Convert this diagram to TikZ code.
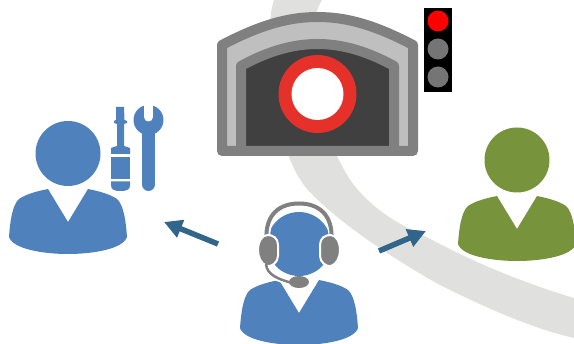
\documentclass[tikz,border=0pt]{standalone}
\usetikzlibrary{arrows.meta}
\definecolor{band}{HTML}{E0E0DE}
\definecolor{pblue}{HTML}{4F81BD}
\definecolor{pgreen}{HTML}{77933C}
\definecolor{tgray}{HTML}{808080}
\definecolor{tlight}{HTML}{BFBFBF}
\definecolor{tdark}{HTML}{404040}
\definecolor{ringred}{HTML}{E5312A}
\definecolor{lampgray}{HTML}{757575}
\definecolor{arrowc}{HTML}{31658A}
\tikzset{
  personbody/.pic={
    \fill (-20,36) -- (0,69) -- (20,36)
      .. controls (30,38) and (42,41) .. (49,46)
      .. controls (56,52) and (58,70) .. (59,84)
      .. controls (55,96) and (25,101) .. (0,101)
      .. controls (-25,101) and (-55,96) .. (-59,84)
      .. controls (-58,70) and (-56,52) .. (-49,46)
      .. controls (-42,41) and (-30,38) .. (-20,36) -- cycle;
  },
  flow/.style={draw=arrowc,line width=5.5pt,-{Triangle[length=18pt,width=18pt]},shorten >=0pt},
  lamp/.style={radius=10.5}
}
\begin{document}
\begin{tikzpicture}[x=1pt,y=-1pt]
\useasboundingbox (0,0) rectangle (574,344);
\clip (0,0) rectangle (574,344);
% road band
\fill[band] (274,0) .. controls (262,35) and (272,150) .. (308,190)
  .. controls (338,223) and (400,263) .. (440,285)
  .. controls (480,305) and (530,328) .. (574,338)
  -- (574,298) .. controls (530,285) and (480,265) .. (440,244)
  .. controls (410,228) and (386,221) .. (358,190)
  .. controls (330,159) and (292,50) .. (322,0) -- cycle;
% tunnel
\draw[tgray,fill=tlight,line width=10pt,line join=round]
  (222,151) -- (222,45) .. controls (262,24) and (290,17) .. (317.5,17)
  .. controls (345,17) and (373,24) .. (413,45) -- (413,151) -- cycle;
\draw[tgray,fill=tdark,line width=10pt,line join=round]
  (241,151) -- (241,66) .. controls (270,50) and (295,44) .. (317.5,44)
  .. controls (340,44) and (365,50) .. (394,66) -- (394,151) -- cycle;
\fill[ringred] (317.5,94) circle[radius=39];
\fill[white] (317.5,94) circle[radius=26];
% traffic light
\fill[black] (424,8) rectangle (452,92);
\fill[red] (438,21) circle[lamp];
\fill[lampgray] (438,49) circle[lamp];
\fill[lampgray] (438,77) circle[lamp];
% left person
\fill[pblue] (68,153.5) circle[radius=32.5];
\pic[pblue] at (68,153) {personbody};
% screwdriver
\fill[pblue] (116,107) -- (124,107) -- (124.5,120) -- (127,121) -- (127,123) -- (124,124) -- (124,146) -- (130,148) -- (130,154) -- (111,154) -- (111,148) -- (117,146) -- (117,124) -- (114,123) -- (114,121) -- (116,120) -- cycle;
\fill[pblue] (111,157) -- (130,157) -- (130,179.5) -- (111,179.5) -- cycle;
\fill[pblue] (111,181.5) -- (130,181.5) -- (130,185) .. controls (130,189) and (127,191) .. (124,191) -- (117,191) .. controls (114,191) and (111,189) .. (111,185) -- cycle;
% wrench
\fill[pblue] (148.5,120) circle[radius=15];
\fill[pblue] (142,125) rectangle (155,185);
\fill[pblue] (148.5,184.5) circle[radius=6.5];
\fill[white] (144,100) rectangle (153,117);
\fill[white] (148.5,117) circle[radius=4.5];
% right person
\fill[pgreen] (517,160) circle[radius=32.5];
\pic[pgreen] at (517,160) {personbody};
% operator
\fill[pblue] (299,244) circle[radius=32];
\pic[pblue] at (299,244) {personbody};
% headset
\draw[white,line width=6.5pt] (267,240) .. controls (266,214) and (280,203.5) .. (299,203.5) .. controls (318,203.5) and (332,214) .. (332,240);
\draw[tgray,line width=4pt] (266.5,240) .. controls (265,214) and (280,203.5) .. (299,203.5) .. controls (318,203.5) and (333,214) .. (331.5,240);
\draw[white,fill=tgray,line width=2pt] (267.5,235) .. controls (273,235) and (278,238) .. (278,245) -- (278,256) .. controls (278,262) and (272,267) .. (267,266) .. controls (261,264) and (258,257) .. (258,250) .. controls (258,242) and (262,235) .. (267.5,235) -- cycle;
\draw[white,fill=tgray,line width=2pt] (330.5,235) .. controls (325,235) and (320,238) .. (320,245) -- (320,256) .. controls (320,262) and (326,267) .. (331,266) .. controls (337,264) and (340,257) .. (340,250) .. controls (340,242) and (336,235) .. (330.5,235) -- cycle;
\draw[white,line width=6pt] (266,266) .. controls (267,275) and (278,279) .. (292,283);
\draw[tgray,line width=2.5pt] (266,264) .. controls (267,275) and (278,279) .. (292,283);
\fill[tgray] (299,282) ellipse[x radius=10,y radius=6];
% arrows
\coordinate (a1) at (218,244);
\coordinate (a2) at (164,222);
\coordinate (b1) at (379,251);
\coordinate (b2) at (426,231);
\draw[flow] (a1) -- (a2);
\draw[flow] (b1) -- (b2);
\end{tikzpicture}
\end{document}
